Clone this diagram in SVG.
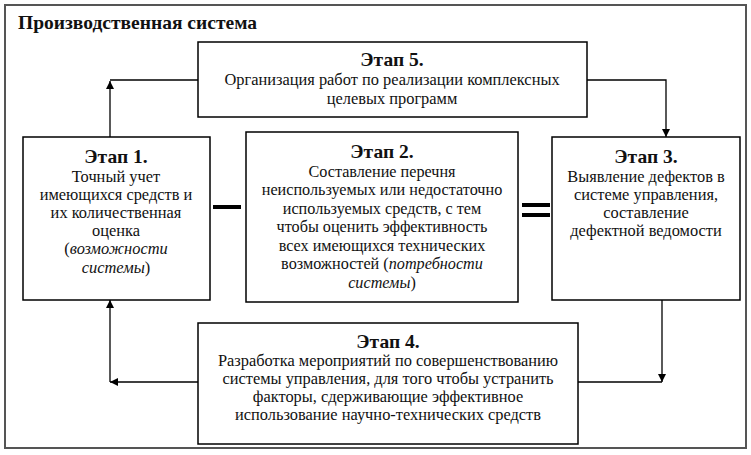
<svg xmlns="http://www.w3.org/2000/svg" width="751" height="455" viewBox="0 0 751 455">
<style>
.box{fill:#fff;stroke:#000;stroke-width:1.5}
.ln{fill:none;stroke:#000;stroke-width:1.3}
text{font-family:"Liberation Serif","Times New Roman",serif;fill:#111;text-anchor:middle}
.h{font-weight:bold;font-size:19.5px}
.t{font-size:16.4px}
.s{font-size:16.2px}
.i{font-style:italic}
.bar{fill:#000}
</style>
<defs>
<marker id="ar" viewBox="0 0 10 10" refX="10" refY="5" markerWidth="8" markerHeight="10" markerUnits="userSpaceOnUse" orient="auto">
<path d="M0,0 L10,5 L0,10 z" fill="#000"/>
</marker>
</defs>
<rect x="0" y="0" width="751" height="455" fill="#fff"/>
<g id="frame">
<rect x="5" y="5" width="741" height="443" fill="#fff" stroke="#555" stroke-width="2"/>
<text x="18" y="29" style="font-weight:bold;font-size:19.5px;text-anchor:start">Производственная система</text>
</g>
<g id="connectors">
<path class="ln" d="M198,80 H110"/>
<path class="ln" d="M110,137 V81" marker-end="url(#ar)"/>
<path class="ln" d="M587,80 H666 V137" marker-end="url(#ar)"/>
<path class="ln" d="M578,382 H662"/>
<path class="ln" d="M662,300 V382" marker-end="url(#ar)"/>
<path class="ln" d="M198,382 H110" marker-end="url(#ar)"/>
<path class="ln" d="M110,382 V300" marker-end="url(#ar)"/>
</g>
<g id="stage5">
<rect class="box" x="198" y="42" width="389" height="75"/>
<text class="h" x="392" y="66">Этап 5.</text>
<text class="t" x="392" y="85">Организация работ по реализации комплексных</text>
<text class="t" x="392" y="104">целевых программ</text>
</g>
<g id="stage1">
<rect class="box" x="23" y="137" width="187" height="163"/>
<text class="h" x="116" y="163">Этап 1.</text>
<text class="t" x="116" y="182">Точный учет</text>
<text class="t" x="116" y="200">имеющихся средств и</text>
<text class="t" x="116" y="218">их количественная</text>
<text class="t" x="116" y="236">оценка</text>
<text class="t" x="116" y="254">(<tspan class="i">возможности</tspan></text>
<text class="t" x="116" y="273"><tspan class="i">системы</tspan>)</text>
</g>
<g id="minus">
<rect class="bar" x="213" y="205" width="28" height="4"/>
</g>
<g id="stage2">
<rect class="box" x="246" y="132" width="272" height="170"/>
<text class="h" x="382" y="158">Этап 2.</text>
<text class="s" x="382" y="177">Составление перечня</text>
<text class="s" x="382" y="195">неиспользуемых или недостаточно</text>
<text class="s" x="382" y="214">используемых средств, с тем</text>
<text class="s" x="382" y="232">чтобы оценить эффективность</text>
<text class="s" x="382" y="251">всех имеющихся технических</text>
<text class="s" x="382" y="269">возможностей (<tspan class="i">потребности</tspan></text>
<text class="s" x="382" y="288"><tspan class="i">системы</tspan>)</text>
</g>
<g id="equals">
<rect class="bar" x="522" y="203" width="28" height="4"/>
<rect class="bar" x="522" y="213" width="28" height="4"/>
</g>
<g id="stage3">
<rect class="box" x="552" y="137" width="188" height="163"/>
<text class="h" x="646" y="163">Этап 3.</text>
<text class="t" x="646" y="182">Выявление дефектов в</text>
<text class="t" x="646" y="200">системе управления,</text>
<text class="t" x="646" y="218">составление</text>
<text class="t" x="646" y="236">дефектной ведомости</text>
</g>
<g id="stage4">
<rect class="box" x="198" y="323" width="380" height="121"/>
<text class="h" x="388" y="348">Этап 4.</text>
<text class="t" x="388" y="366">Разработка мероприятий по совершенствованию</text>
<text class="t" x="388" y="384">системы управления, для того чтобы устранить</text>
<text class="t" x="388" y="402">факторы, сдерживающие эффективное</text>
<text class="t" x="388" y="420">использование научно-технических средств</text>
</g>
</svg>
